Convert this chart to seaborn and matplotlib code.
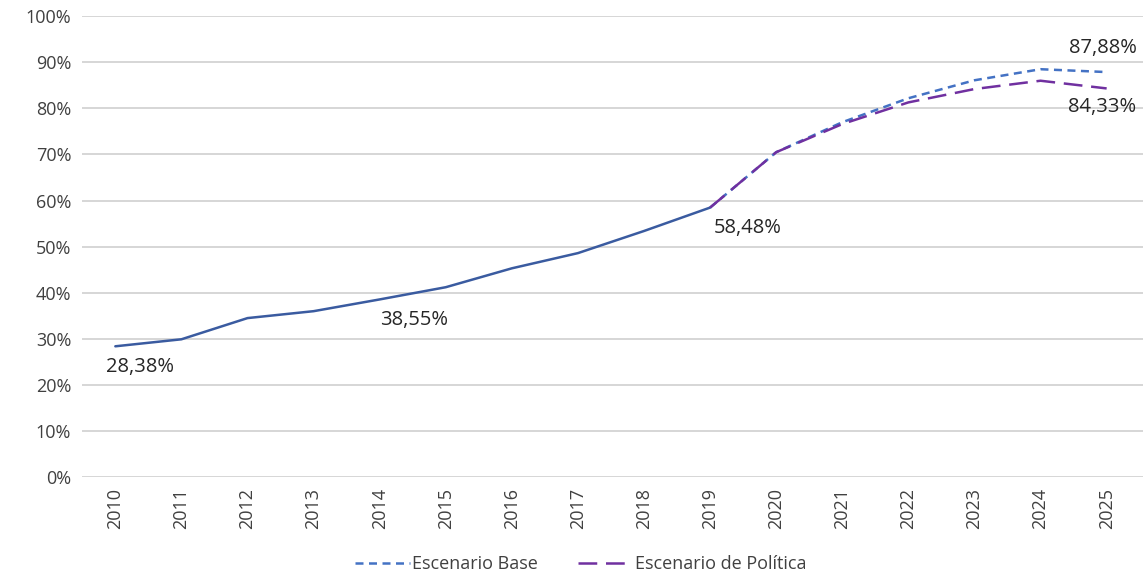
import pandas as pd
import matplotlib.pyplot as plt
import seaborn as sns

years = list(range(2010, 2026))
hist_years = list(range(2010, 2020))
hist_vals = [28.38, 29.9, 34.5, 36.0, 38.55, 41.2, 45.3, 48.6, 53.4, 58.48]
proj_years = list(range(2019, 2026))
base_vals = [58.48, 70.5, 77.0, 82.2, 86.1, 88.5, 87.88]
policy_vals = [58.48, 70.5, 76.6, 81.3, 84.2, 86.0, 84.33]

hist_df = pd.DataFrame({'year': hist_years, 'val': hist_vals})
proj_df = pd.DataFrame({'year': proj_years, 'base': base_vals, 'policy': policy_vals})

sns.set_style('white')
plt.rcParams['font.family'] = ['Open Sans', 'DejaVu Sans']

fig, ax = plt.subplots(figsize=(11.43, 5.79), dpi=100)
fig.subplots_adjust(left=0.072, right=1.0, top=0.972, bottom=0.176)

sns.lineplot(data=hist_df, x='year', y='val', ax=ax, color='#3A5BA0', lw=1.8)
sns.lineplot(data=proj_df, x='year', y='base', ax=ax, color='#4472C4', lw=1.8,
             label='Escenario Base', linestyle=(0, (3.2, 2.2)))
sns.lineplot(data=proj_df, x='year', y='policy', ax=ax, color='#7030A0', lw=1.8,
             label='Escenario de Política', linestyle=(0, (7.5, 3.5)))

ax.set_ylim(0, 100)
ax.set_xlim(2009.5, 2025.55)
ax.set_yticks(range(0, 101, 10))
ax.set_yticklabels([f'{v}%' for v in range(0, 101, 10)])
ax.set_xticks(years)
ax.set_xticklabels([str(y) for y in years], rotation=90)
ax.tick_params(axis='both', labelsize=13, colors='#404040', length=0, pad=8)
ax.grid(axis='y', color='#D0D0D0', lw=1.2)
ax.set_axisbelow(True)
for s in ax.spines.values():
    s.set_visible(False)
ax.set_xlabel('')
ax.set_ylabel('')

lab_kw = dict(fontsize=14.5, color='#262626')
ax.text(2009.86, hist_vals[0] - 2.3, '28,38%', ha='left', va='top', **lab_kw)
ax.text(2014, hist_vals[4] - 2.3, '38,55%', ha='left', va='top', **lab_kw)
ax.text(2019.05, hist_vals[9] - 2.3, '58,48%', ha='left', va='top', **lab_kw)
ax.text(2025.45, base_vals[-1] + 3.0, '87,88%', ha='right', va='bottom', **lab_kw)
ax.text(2025.45, policy_vals[-1] - 1.8, '84,33%', ha='right', va='top', **lab_kw)

ax.legend(loc='upper center', bbox_to_anchor=(0.47, -0.142), ncol=2, frameon=False,
          fontsize=13, handlelength=3.0, handletextpad=0.15, columnspacing=2.2,
          labelcolor='#404040', borderpad=0.2)

fig.savefig('out.png', dpi=100)
